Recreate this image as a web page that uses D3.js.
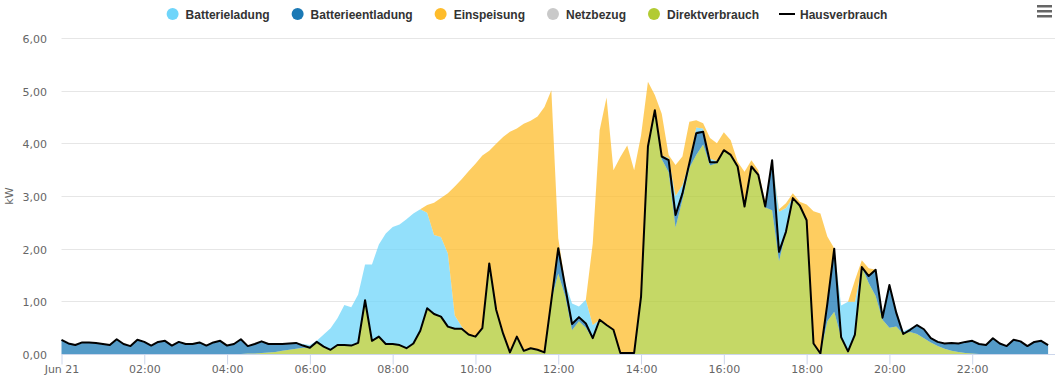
<!DOCTYPE html>
<html>
<head>
<meta charset="utf-8">
<script src="https://cdn.jsdelivr.net/npm/d3@7"></script>
<style>
  body { margin: 0; background: #fff; }
  svg { display: block; }
</style>
</head>
<body>
<svg id="chart" width="1059" height="387"></svg>
<script>

// 10-minute values, 00:00 .. 23:50, kW
let hausverbrauch = [
  0.27,0.20,0.17,0.22,0.22,0.21,0.19,0.17,0.28,0.19,
  0.15,0.27,0.23,0.16,0.23,0.25,0.16,0.23,0.19,0.19,
  0.22,0.16,0.22,0.25,0.16,0.19,0.28,0.15,0.19,0.24,
  0.19,0.19,0.19,0.20,0.21,0.16,0.12,0.23,0.14,0.08,
  0.17,0.17,0.16,0.21,1.02,0.25,0.33,0.19,0.19,0.17,
  0.11,0.20,0.44,0.87,0.76,0.71,0.52,0.48,0.48,0.37,
  0.33,0.49,1.72,0.84,0.39,0.03,0.33,0.06,0.11,0.08,
  0.03,1.02,2.01,1.28,0.57,0.70,0.58,0.30,0.65,0.55,
  0.46,0.02,0.02,0.02,1.09,3.94,4.63,3.75,3.68,2.64,
  3.05,3.62,4.19,4.22,3.64,3.64,3.87,3.78,3.56,2.80,
  3.56,3.40,2.80,3.68,1.94,2.32,2.96,2.82,2.54,0.20,
  0.01,0.95,2.00,0.32,0.05,0.37,1.65,1.48,1.60,0.69,
  1.31,0.78,0.38,0.46,0.55,0.47,0.30,0.23,0.20,0.21,
  0.20,0.23,0.25,0.19,0.17,0.30,0.20,0.15,0.27,0.24,
  0.15,0.23,0.25,0.17
];

let direktverbrauch = [
  0,0,0,0,0,0,0,0,0,0,
  0,0,0,0,0,0,0,0,0,0,
  0,0,0,0,0,0,0,0.01,0.01,0.02,
  0.03,0.04,0.06,0.08,0.10,0.12,0.12,0.23,0.14,0.08,
  0.17,0.17,0.16,0.21,1.02,0.25,0.33,0.19,0.19,0.17,
  0.11,0.20,0.44,0.87,0.76,0.71,0.52,0.48,0.48,0.37,
  0.33,0.49,1.72,0.84,0.39,0.03,0.33,0.06,0.11,0.08,
  0.03,1.02,1.53,1.10,0.45,0.62,0.50,0.28,0.65,0.55,
  0.46,0.02,0.02,0.02,1.09,3.90,4.63,3.70,3.45,2.40,
  2.93,3.53,3.78,3.98,3.58,3.62,3.87,3.78,3.56,2.80,
  3.56,3.40,2.78,2.73,1.76,2.32,2.96,2.82,2.54,0.20,
  0.01,0.62,0.80,0.32,0.05,0.37,1.65,1.35,1.10,0.65,
  0.50,0.52,0.38,0.42,0.38,0.30,0.22,0.15,0.10,0.06,
  0.04,0.02,0.01,0,0,0,0,0,0,0,
  0,0,0,0
];

let batterieentladung = [
  0.27,0.20,0.17,0.22,0.22,0.21,0.19,0.17,0.28,0.19,
  0.15,0.27,0.23,0.16,0.23,0.25,0.16,0.23,0.19,0.19,
  0.22,0.16,0.22,0.25,0.16,0.19,0.28,0.14,0.18,0.22,
  0.16,0.15,0.13,0.12,0.11,0.04,0,0,0,0,
  0,0,0,0,0,0,0,0,0,0,
  0,0,0,0,0,0,0,0,0,0,
  0,0,0,0,0,0,0,0,0,0,
  0,0,0.48,0.18,0.12,0.08,0.08,0.02,0,0,
  0,0,0,0,0,0.04,0,0.05,0.22,0.28,
  0.15,0.09,0.45,0.26,0.07,0.02,0,0,0,0,
  0,0,0.02,0.95,0.20,0,0,0,0,0,
  0,0.33,1.20,0,0,0,0,0.13,0.50,0.04,
  0.81,0.26,0,0.04,0.17,0.17,0.08,0.08,0.10,0.15,
  0.16,0.21,0.24,0.19,0.17,0.30,0.20,0.15,0.27,0.24,
  0.15,0.23,0.25,0.17
];

let batterieladung = [
  0,0,0,0,0,0,0,0,0,0,
  0,0,0,0,0,0,0,0,0,0,
  0,0,0,0,0,0,0,0,0,0,
  0,0,0,0,0.01,0.03,0.05,0.02,0.23,0.41,
  0.51,0.76,0.73,0.92,0.68,1.45,1.75,2.10,2.22,2.29,
  2.45,2.47,2.31,1.81,1.50,1.51,1.39,0.25,0.04,0,
  0,0,0,0,0,0,0,0,0,0,
  0,0,0,0.07,0.39,0.20,0.45,0.25,0,0,
  0,0,0,0,0,0,0,0.02,0.05,0.32,
  0.13,0.02,0.07,0.04,0.06,0.02,0,0,0,0,
  0,0,0,0,0.74,0.45,0,0,0,0,
  0,0,0,0.60,0.94,0.62,0,0,0,0,
  0,0.05,0.05,0.03,0,0,0,0,0,0,
  0,0,0,0,0,0,0,0,0,0,
  0,0,0,0
];

let einspeisung = [
  0,0,0,0,0,0,0,0,0,0,
  0,0,0,0,0,0,0,0,0,0,
  0,0,0,0,0,0,0,0,0,0,
  0,0,0,0,0,0,0,0,0,0,
  0,0,0,0,0,0,0,0,0,0,
  0,0,0,0.15,0.61,0.74,1.14,2.45,2.80,3.10,
  3.28,3.28,2.14,3.15,3.73,4.19,3.95,4.31,4.32,4.43,
  4.66,3.99,0.19,0,0,0,0,1.55,3.60,4.32,
  3.03,3.72,3.94,3.47,3.06,1.23,0.29,0.79,0.06,0.59,
  0.54,0.77,0.14,0.10,0.39,0.34,0.34,0.28,0.09,0.66,
  0.12,0.09,0.10,0,0.05,0.09,0.09,0.07,0.30,2.51,
  2.66,1.28,0.01,0,0,0.41,0.13,0.15,0,0,
  0,0,0,0,0,0,0,0,0,0,
  0,0,0,0,0,0,0,0,0,0,
  0,0,0,0
];

let yTicks = [0, 1, 2, 3, 4, 5, 6];

let legendItems = [
  {name: "Batterieladung", color: "#6fd5fa", type: "dot"},
  {name: "Batterieentladung", color: "#1b79b5", type: "dot"},
  {name: "Einspeisung", color: "#febc2b", type: "dot"},
  {name: "Netzbezug", color: "#c9c9c9", type: "dot"},
  {name: "Direktverbrauch", color: "#b2cb33", type: "dot"},
  {name: "Hausverbrauch", color: "#000000", type: "line"}
];

// stacking order, bottom to top
let stackKeys = ["direktverbrauch", "batterieentladung", "batterieladung", "einspeisung"];
let areaColors = {
  direktverbrauch: "#b2cb33",
  batterieentladung: "#1b79b5",
  batterieladung: "#6fd5fa",
  einspeisung: "#febc2b"
};


let t0 = new Date(2021, 5, 21, 0, 0);

let rows = hausverbrauch.map((h, i) => ({
  time: d3.timeMinute.offset(t0, i * 10),
  hausverbrauch: h,
  direktverbrauch: direktverbrauch[i],
  batterieentladung: batterieentladung[i],
  batterieladung: batterieladung[i],
  einspeisung: einspeisung[i]
}));


let svg = d3.select("#chart");

let x = d3.scaleTime()
    .domain([t0, d3.timeHour.offset(t0, 24)])
    .range([61.5, 1055]);

let y = d3.scaleLinear()
    .domain([0, 6])
    .range([354, 38]);

let de = d3.formatLocale({decimal: ",", thousands: ".", grouping: [3], currency: ["", " €"]});
let fmt = de.format(".2f");


// grid
let grid = svg.append("g");
grid.selectAll("line")
  .data(yTicks)
  .enter().append("line")
  .attr("x1", 61.5)
  .attr("x2", 1055)
  .attr("y1", d => Math.round(y(d)) + 0.5)
  .attr("y2", d => Math.round(y(d)) + 0.5)
  .attr("stroke", "#e6e6e6")
  .attr("stroke-width", 1);

// y labels
svg.append("g").selectAll("text")
  .data(yTicks)
  .enter().append("text")
  .attr("x", 47)
  .attr("y", d => y(d) + 5)
  .attr("text-anchor", "end")
  .attr("font-family", "DejaVu Sans")
  .attr("font-size", 11)
  .attr("fill", "#666666")
  .text(d => fmt(d));

svg.append("text")
  .attr("transform", "translate(12.5,196) rotate(-90)")
  .attr("text-anchor", "middle")
  .attr("font-family", "DejaVu Sans")
  .attr("font-size", 11)
  .attr("fill", "#666666")
  .text("kW");


// stacked areas
let stack = d3.stack().keys(stackKeys);
let series = stack(rows);

let area = d3.area()
    .x(d => x(d.data.time))
    .y0(d => y(d[0]))
    .y1(d => y(d[1]));

svg.append("g").selectAll("path")
  .data(series)
  .enter().append("path")
  .attr("d", area)
  .attr("fill", d => areaColors[d.key])
  .attr("fill-opacity", 0.75);

// house consumption line
let line = d3.line()
    .x(d => x(d.time))
    .y(d => y(d.hausverbrauch));

svg.append("path")
  .datum(rows)
  .attr("d", line)
  .attr("fill", "none")
  .attr("stroke", "#000")
  .attr("stroke-width", 2)
  .attr("stroke-linejoin", "round");


// x axis
let xAxis = d3.axisBottom(x)
    .ticks(d3.timeHour.every(2))
    .tickSize(10)
    .tickFormat(d => d.getHours() === 0 ? "Jun 21" : d3.timeFormat("%H:%M")(d));

let xg = svg.append("g")
    .attr("transform", "translate(0,354.5)")
    .call(xAxis);

xg.select(".domain").attr("stroke", "#ccd6eb").attr("d", "M61.5,0H1055");
xg.selectAll(".tick").filter(d => d >= d3.timeHour.offset(t0, 24)).remove();
xg.selectAll(".tick line").attr("stroke", "#ccd6eb");
xg.selectAll(".tick text")
  .attr("y", 18.5)
  .attr("dy", 0)
  .attr("font-family", "DejaVu Sans")
  .attr("font-size", 11)
  .attr("fill", "#666666");


// legend
let legend = svg.append("g");
let lx = 0;
for (let item of legendItems) {
  let g = legend.append("g").attr("transform", `translate(${lx},0)`);
  if (item.type === "line") {
    g.append("line")
      .attr("x1", 0).attr("x2", 16)
      .attr("y1", 0).attr("y2", 0)
      .attr("stroke", item.color)
      .attr("stroke-width", 2);
  } else {
    g.append("circle")
      .attr("cx", 8).attr("cy", 0)
      .attr("r", 6)
      .attr("fill", item.color);
  }
  let t = g.append("text")
    .attr("x", 21)
    .attr("y", 4.5)
    .attr("font-family", "Liberation Sans, Arial, sans-serif")
    .attr("font-size", 12)
    .attr("font-weight", "bold")
    .attr("fill", "#333333")
    .text(item.name);
  lx += 21 + t.node().getComputedTextLength() + 20;
}
let legendWidth = lx - 20;
legend.attr("transform", `translate(${526 - legendWidth / 2},14)`);


// context menu icon
svg.append("g").selectAll("rect")
  .data([5, 10, 15])
  .enter().append("rect")
  .attr("x", 1037)
  .attr("y", d => d)
  .attr("width", 15)
  .attr("height", 2.5)
  .attr("fill", "#666666");

</script>
</body>
</html>
